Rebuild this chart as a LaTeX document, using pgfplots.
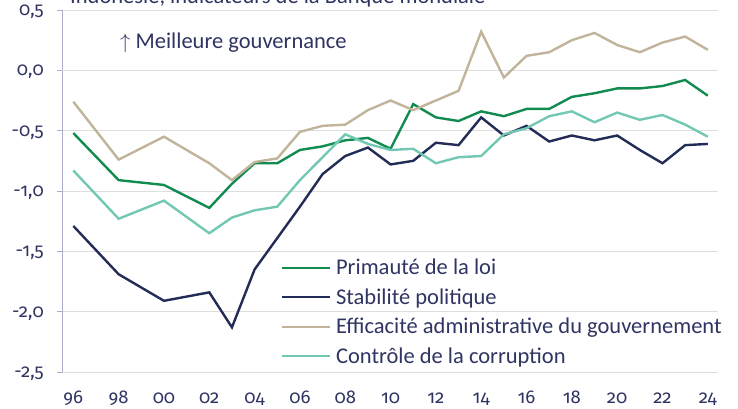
\documentclass[border=0pt]{standalone}
\usepackage{fontspec}
\setmainfont{Carlito}
\newfontfamily\numfont{Fira Sans}[Numbers=OldStyle]
\usepackage{pgfplots}
\pgfplotsset{compat=1.18}
\definecolor{cgreen}{HTML}{118B4F}
\definecolor{cnavy}{HTML}{232B57}
\definecolor{ctan}{HTML}{C2B49B}
\definecolor{cteal}{HTML}{73C8B4}
\definecolor{textcol}{HTML}{2F3462}
\definecolor{axiscol}{HTML}{A9ADC9}
\definecolor{gridcol}{HTML}{DEDEDE}
\definecolor{zerocol}{HTML}{C3C5DA}
\begin{document}
\fontsize{22.5bp}{26bp}\selectfont
\begin{tikzpicture}
\begin{axis}[
  scale only axis, width=656bp, height=362bp,
  xmin=1995.5, xmax=2024.45, ymin=-2.5, ymax=0.5,
  axis lines*=left, axis line style={-},
  x axis line style={draw=none},
  y axis line style={draw=axiscol, line width=0.9bp},
  ytick={-2.5,-2,-1.5,-1,-0.5,0,0.5},
  yticklabels={{-2,5},{-2,0},{-1,5},{-1,0},{-0,5},{0,0},{0,5}},
  xtick={1996,1998,2000,2002,2004,2006,2008,2010,2012,2014,2016,2018,2020,2022,2024},
  xticklabels={96,98,00,02,04,06,08,10,12,14,16,18,20,22,24},
  ymajorgrids, major grid style={draw=gridcol, line width=0.9bp},
  extra y ticks={0}, extra y tick labels={},
  extra y tick style={grid style={draw=zerocol, line width=1.3bp}},
  tick align=outside, major tick length=5bp,
  y tick style={draw=axiscol, line width=0.9bp},
  x tick style={draw=none},
  tick label style={font=\numfont\fontsize{18.5bp}{22bp}\selectfont, text=textcol, inner sep=0pt},
  yticklabel style={anchor=base east, xshift=-13bp, yshift=-5.5bp},
  xticklabel style={anchor=base, yshift=-26bp},
  every axis plot/.append style={line width=2.4bp},
  legend cell align=left,
  legend style={at={(0.3334,0.3157)}, anchor=north west, draw=none, fill=none,
    inner sep=0pt, outer sep=0pt, row sep=9.5bp, column sep=5bp,
    font=\fontsize{22.5bp}{26bp}\selectfont, text=textcol,
    nodes={inner sep=0pt, text height=17bp, text depth=3bp}},
  legend image code/.code={\draw[#1] (0bp,0bp) -- (48bp,0bp);},
  clip=false,
]
\addplot[cgreen] coordinates {(1996,-0.52) (1998,-0.91) (2000,-0.95) (2002,-1.14) (2003,-0.94) (2004,-0.77) (2005,-0.77) (2006,-0.66) (2007,-0.63) (2008,-0.58) (2009,-0.56) (2010,-0.65) (2011,-0.28) (2012,-0.39) (2013,-0.42) (2014,-0.34) (2015,-0.38) (2016,-0.32) (2017,-0.32) (2018,-0.22) (2019,-0.19) (2020,-0.15) (2021,-0.15) (2022,-0.13) (2023,-0.08) (2024,-0.21)};
\addlegendentry{Primauté de la loi}
\addplot[cnavy] coordinates {(1996,-1.29) (1998,-1.69) (2000,-1.91) (2002,-1.84) (2003,-2.13) (2004,-1.65) (2005,-1.39) (2006,-1.13) (2007,-0.86) (2008,-0.71) (2009,-0.64) (2010,-0.78) (2011,-0.75) (2012,-0.60) (2013,-0.62) (2014,-0.39) (2015,-0.54) (2016,-0.46) (2017,-0.59) (2018,-0.54) (2019,-0.58) (2020,-0.54) (2021,-0.66) (2022,-0.77) (2023,-0.62) (2024,-0.61)};
\addlegendentry{Stabilité politique}
\addplot[ctan] coordinates {(1996,-0.26) (1998,-0.74) (2000,-0.55) (2002,-0.77) (2003,-0.91) (2004,-0.76) (2005,-0.73) (2006,-0.51) (2007,-0.46) (2008,-0.45) (2009,-0.33) (2010,-0.25) (2011,-0.33) (2012,-0.25) (2013,-0.17) (2014,0.32) (2015,-0.06) (2016,0.12) (2017,0.15) (2018,0.25) (2019,0.31) (2020,0.21) (2021,0.15) (2022,0.23) (2023,0.28) (2024,0.17)};
\addlegendentry{Efficacité administrative du gouvernement}
\addplot[cteal] coordinates {(1996,-0.83) (1998,-1.23) (2000,-1.08) (2002,-1.35) (2003,-1.22) (2004,-1.16) (2005,-1.13) (2006,-0.91) (2007,-0.72) (2008,-0.53) (2009,-0.61) (2010,-0.66) (2011,-0.65) (2012,-0.77) (2013,-0.72) (2014,-0.71) (2015,-0.53) (2016,-0.48) (2017,-0.38) (2018,-0.34) (2019,-0.43) (2020,-0.35) (2021,-0.41) (2022,-0.37) (2023,-0.45) (2024,-0.55)};
\addlegendentry{Contrôle de la corruption}
\node[anchor=base west, inner sep=0pt, text=textcol, font=\fontsize{22.5bp}{26bp}\selectfont] at (rel axis cs:0.0884,0.8942) {$\uparrow$ Meilleure gouvernance};
\node[anchor=base west, inner sep=0pt, text=textcol, font=\fontsize{22.5bp}{26bp}\selectfont] at (rel axis cs:0.0122,1.0166) {Indonésie, indicateurs de la Banque mondiale};
\end{axis}
\pgfresetboundingbox
\path[use as bounding box] (-62bp,-37bp) rectangle (676bp,372bp);
\end{tikzpicture}
\end{document}
